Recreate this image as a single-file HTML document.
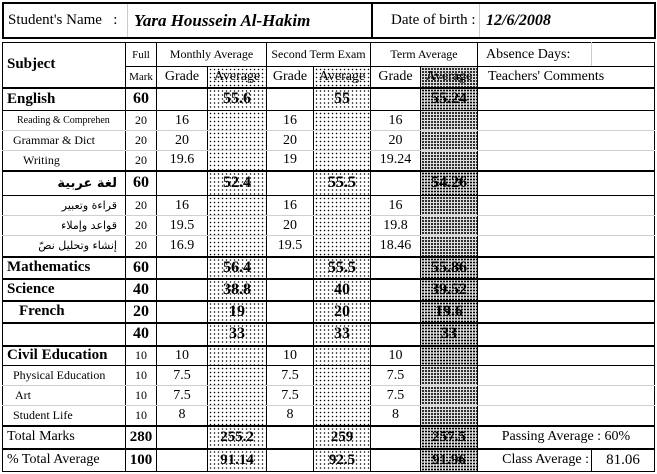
<!DOCTYPE html>
<html><head><meta charset="utf-8">
<style>
body{margin:0;width:657px;height:474px;background:#fff;position:relative;overflow:hidden;font-family:"Liberation Serif",serif;color:#000}
#top{position:absolute;left:2px;top:2px;width:650px;height:33px;border:2px solid #000}
#top div{position:absolute;top:0;height:33px;line-height:33px;font-size:15px;white-space:nowrap}
table{position:absolute;left:2px;top:42px;border-collapse:collapse;table-layout:fixed}
td{border:1px solid #000;padding:0;text-align:center;font-size:14px;white-space:nowrap;overflow:hidden}
tr.sub td{border-top:1px solid #d0d0d0;border-bottom:1px solid #d0d0d0}
tr.sub td.l{text-align:left;font-size:12px}
tr.main td{font-weight:bold;font-size:16px}
tr.main td.l{text-align:left;font-size:15px}
td.l{text-align:left;padding-left:4px}
td.d{background-color:#fff;background-image:radial-gradient(#000 0.6px,transparent 0.9px);background-size:4px 4px}
td.dd{background-color:#ddd;background-image:radial-gradient(#000 0.8px,transparent 1.1px);background-size:3px 3px}
td.c{border-top:1px solid #d0d0d0;border-bottom:1px solid #d0d0d0}
.thick td{border-top:2px solid #000}
tr td.n{font-weight:normal;font-size:14px}
</style></head><body>
<div id="top">
 <div style="left:4px">Student's Name &nbsp;&nbsp;:</div>
 <div style="left:123px;border-left:1px solid #ccc;padding-left:6px;font-weight:bold;font-style:italic;font-size:17px">Yara Houssein Al-Hakim</div>
 <div style="left:367px;border-left:2px solid #000;padding-left:18px">Date of birth :</div>
 <div style="left:475px;border-left:1px solid #ccc;padding-left:6px;font-weight:bold;font-style:italic;font-size:16px">12/6/2008</div>
</div>
<table id="t">
<colgroup><col style="width:123px"><col style="width:31px"><col style="width:51px"><col style="width:59px"><col style="width:47px"><col style="width:57px"><col style="width:50px"><col style="width:57px"><col style="width:114px"><col style="width:63px"></colgroup>
<tr style="height:24px">
<td class="l" rowspan="2" style="font-weight:bold;font-size:15px">Subject</td>
<td style="font-size:11px">Full</td>
<td colspan="2" style="font-size:12px">Monthly Average</td>
<td colspan="2" style="font-size:12px">Second Term Exam</td>
<td colspan="2" style="font-size:12px">Term Average</td>
<td class="l" style="font-size:14px;padding-left:8px;border-right:1px solid #ccc">Absence Days:</td>
<td></td>
</tr>
<tr style="height:21px">
<td style="font-size:11px">Mark</td>
<td>Grade</td>
<td class="d">Average</td>
<td>Grade</td>
<td class="d">Average</td>
<td>Grade</td>
<td class="dd">Average</td>
<td class="l" colspan="2" style="padding-left:10px">Teachers' Comments</td>
</tr>
<tbody id="body"></tbody>
</table>
<script>
const rows=[
["English","60","","55.6","","55","","55.24","main",23,1],
["Reading  &  Comprehen","20","16","","16","","16","","sub",20,0],
["Grammar & Dict","20","20","","20","","20","","sub",20,0],
["Writing","20","19.6","","19","","19.24","","sub",20,0],
["لغة عربية","60","","52.4","","55.5","","54.26","main ar",25,1],
["قراءة وتعبير","20","16","","16","","16","","sub ar",20,0],
["قواعد وإملاء","20","19.5","","20","","19.8","","sub ar",20,0],
["إنشاء وتحليل نصّ","20","16.9","","19.5","","18.46","","sub ar",21,0],
["Mathematics","60","","56.4","","55.5","","55.86","main",22,1],
["Science","40","","38.8","","40","","39.52","main",22,1],
["French","20","","19","","20","","19.6","main fr",22,1],
["","40","","33","","33","","33","main",23,1],
["Civil Education","10","10","","10","","10","","main civ",20,1],
["Physical Education","10","7.5","","7.5","","7.5","","sub",20,0],
["Art","10","7.5","","7.5","","7.5","","sub",20,0],
["Student Life","10","8","","8","","8","","sub",20,0],
["Total Marks","280","","255.2","","259","","257.5","tot",23,1],
["% Total Average","100","","91.14","","92.5","","91.96","tot",23,1]
];
const body=document.getElementById('body');
rows.forEach((r,i)=>{
 const tr=document.createElement('tr');
 
 
 const kinds=r[8].split(' ');
 tr.className=(kinds[0]==='sub'?'sub':'main')+(r[10]?' thick':'');
 tr.style.height=r[9]+'px';
 for(let c=0;c<8;c++){
  const td=document.createElement('td');
  
  
  td.textContent=r[c];
  if(c===0){td.className='l';
   if(kinds.includes('ar')){td.style.textAlign='right';td.style.paddingRight='8px';td.style.fontFamily='"DejaVu Sans",sans-serif';td.style.fontSize=kinds[0]==='sub'?'11px':'13px';td.dir='rtl';}
   if(kinds.includes('fr'))td.style.paddingLeft='16px';
   if(kinds[0]==='sub'&&!kinds.includes('ar')){td.style.paddingLeft=(i===3?'20px':i===14?'12px':'10px');}
   if(i===1){td.style.fontSize='10px';td.style.paddingLeft='14px';}
   if(kinds[0]==='tot'){td.style.fontWeight='normal';td.style.fontSize='14px';}
  }
  if(c===3||c===5)td.className='d';
  if(c===7)td.className='dd';
  if(c===2||c===4||c===6){td.style.fontWeight='normal';td.style.fontSize='14px';}
  if(c===1&&(kinds[0]==='sub'||kinds.includes('civ'))){td.style.fontWeight='normal';td.style.fontSize='12px';}
  if(kinds.includes('civ')&&c>1){td.style.fontWeight='normal';td.style.fontSize='14px';}
  if(kinds[0]==='tot'&&c>0){td.style.fontWeight='bold';td.style.fontSize='15px';}
  tr.appendChild(td);
 }
 if(i===16||i===17){
  const a=document.createElement('td');
  
  
  const b=document.createElement('td');
  
  
  a.className='n';b.className='n';
  if(i===16){a.colSpan=2;a.textContent='Passing Average : 60%';tr.appendChild(a);}
  else{a.textContent='Class Average :';a.style.textAlign='right';a.style.paddingRight='2px';b.textContent='81.06';b.style.fontSize='15px';b.style.borderLeft='1px solid #ccc';tr.appendChild(a);tr.appendChild(b);}
 } else {
  const a=document.createElement('td');
  
  
  a.colSpan=2;
  a.className=r[10]?'':'c';
  tr.appendChild(a);
 }
 body.appendChild(tr);
});
</script>
</body></html>
